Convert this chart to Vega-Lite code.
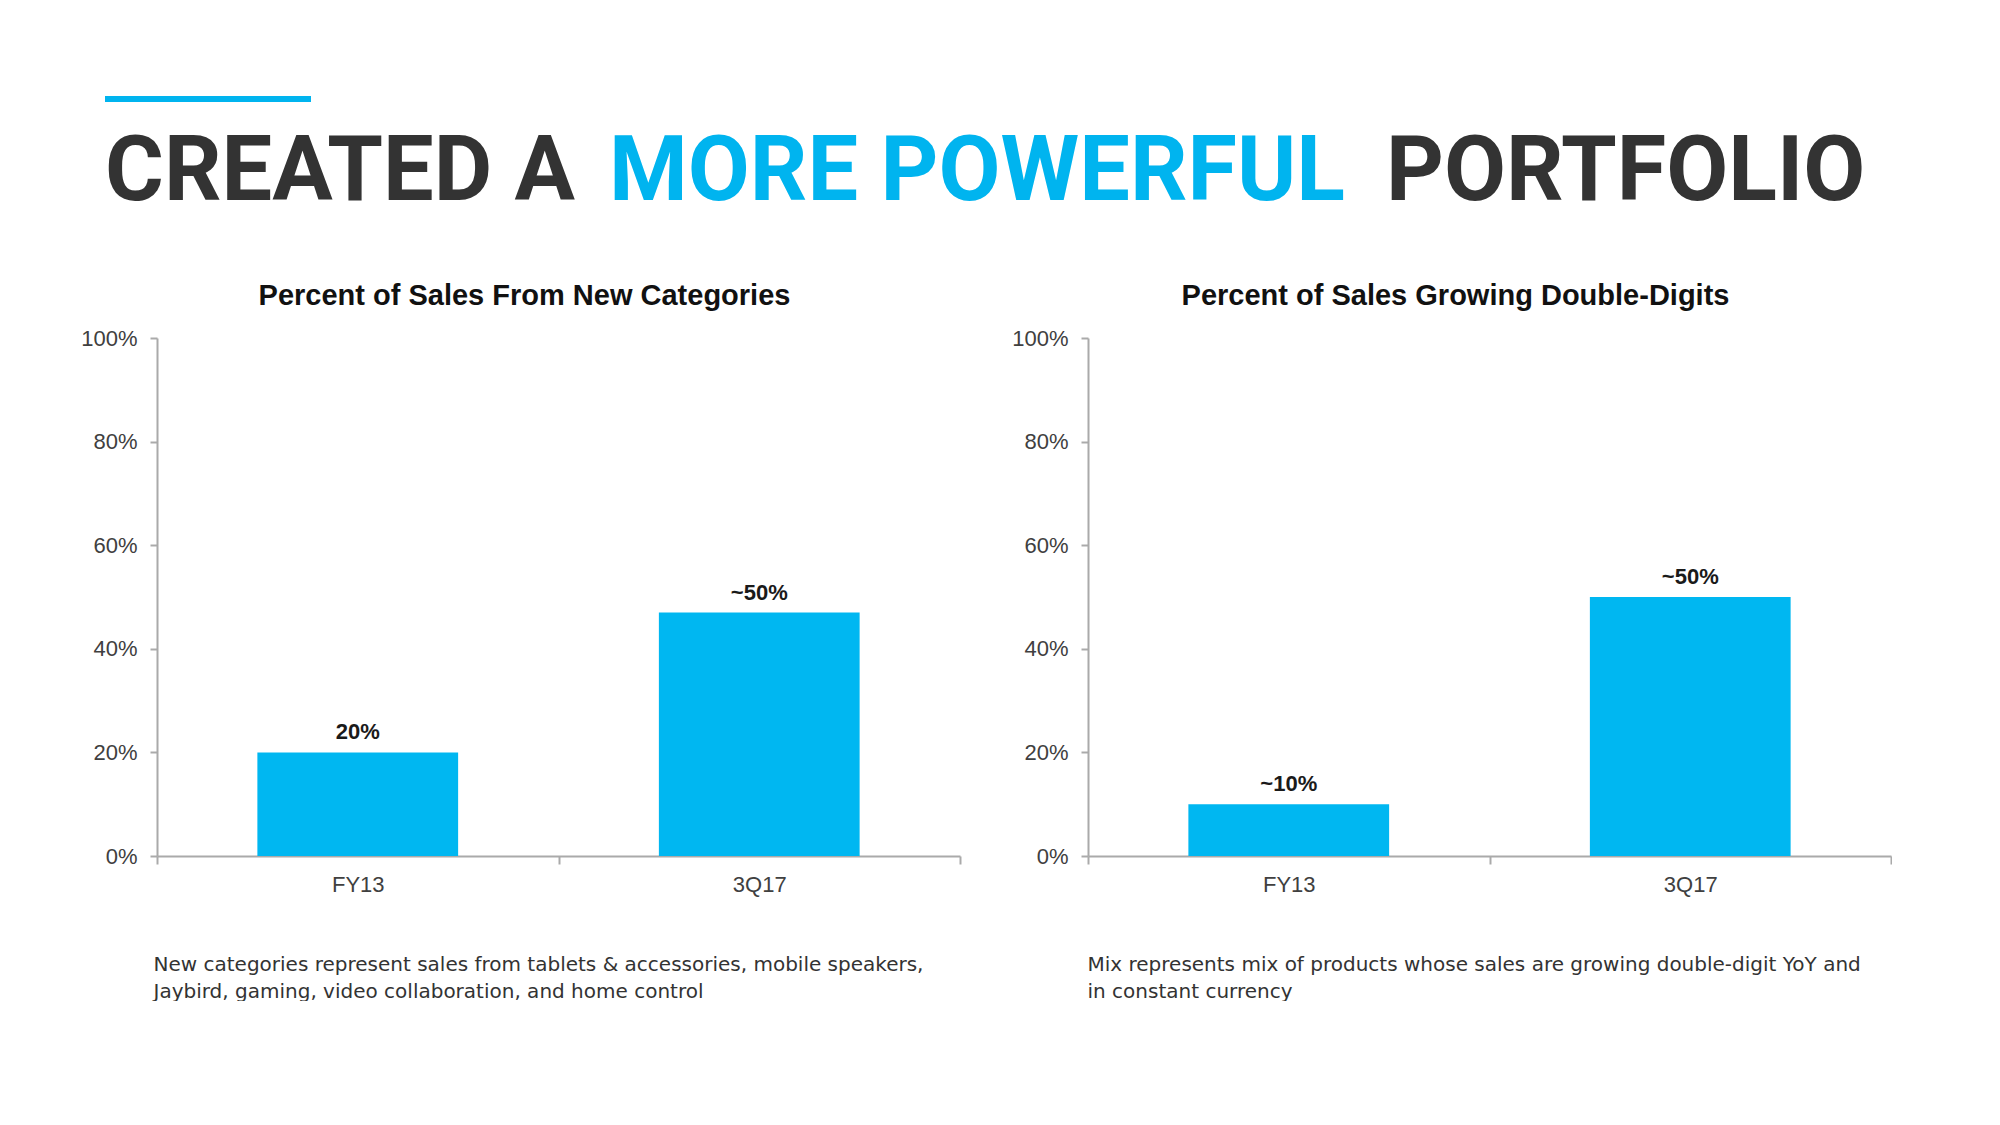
{
  "$schema": "https://vega.github.io/schema/vega-lite/v6.json",
  "background": "white",
  "padding": {"left": 80, "top": 90, "right": 0, "bottom": 0},
  "config": {"view": {"stroke": null}, "font": "Liberation Sans"},
  "datasets": {
    "header": [{"segment": "CREATED A"}, {"segment": "MORE POWERFUL"}, {"segment": "PORTFOLIO"}],
    "newcat": [
      {"period": "FY13", "value": 0.20, "label": "20%"},
      {"period": "3Q17", "value": 0.47, "label": "~50%"}
    ],
    "growth": [
      {"period": "FY13", "value": 0.10, "label": "~10%"},
      {"period": "3Q17", "value": 0.50, "label": "~50%"}
    ]
  },
  "spacing": 52,
  "vconcat": [
    {
      "width": 1700,
      "height": 140,
      "data": {"name": "header"},
      "encoding": {},
      "layer": [
        {
          "transform": [{"filter": "datum.segment === 'CREATED A'"}],
          "mark": {"type": "rule", "color": "#00B4EF", "strokeWidth": 6},
          "encoding": {
            "x": {"datum": -52, "type": "quantitative", "scale": {"domain": [0, 1700], "nice": false, "zero": false}, "axis": null},
            "x2": {"datum": 154},
            "y": {"datum": 9, "type": "quantitative", "scale": {"domain": [0, 140], "reverse": true, "nice": false, "zero": false}, "axis": null}
          }
        },
        {
          "transform": [{"filter": "datum.segment === 'CREATED A'"}],
          "mark": {"type": "text", "font": "Roboto", "fontSize": 90, "fontWeight": "bold", "color": "#333333", "align": "left", "baseline": "alphabetic"},
          "encoding": {
            "x": {"datum": -52, "type": "quantitative"},
            "y": {"datum": 110, "type": "quantitative"},
            "text": {"field": "segment"}
          }
        },
        {
          "transform": [{"filter": "datum.segment === 'MORE POWERFUL'"}],
          "mark": {"type": "text", "font": "Roboto", "fontSize": 90, "fontWeight": "bold", "color": "#00B4EF", "align": "left", "baseline": "alphabetic"},
          "encoding": {
            "x": {"datum": 452, "type": "quantitative"},
            "y": {"datum": 110, "type": "quantitative"},
            "text": {"field": "segment"}
          }
        },
        {
          "transform": [{"filter": "datum.segment === 'PORTFOLIO'"}],
          "mark": {"type": "text", "font": "Roboto", "fontSize": 90, "fontWeight": "bold", "color": "#333333", "align": "left", "baseline": "alphabetic"},
          "encoding": {
            "x": {"datum": 1229, "type": "quantitative"},
            "y": {"datum": 110, "type": "quantitative"},
            "text": {"field": "segment"}
          }
        }
      ]
    },
    {
      "hconcat": [
        {
          "width": 803,
          "height": 518,
          "data": {"name": "newcat"},
          "title": {"text": "Percent of Sales From New Categories", "font": "Liberation Sans", "fontSize": 29, "fontWeight": "bold", "color": "#111111", "frame": "group", "offset": 16, "dx": -34},
          "encoding": {
            "x": {
              "field": "period", "type": "nominal", "sort": ["FY13", "3Q17"],
              "scale": {"paddingInner": 0, "paddingOuter": 0},
              "axis": {
                "labelAngle": 0, "tickBand": "extent", "tickSize": 8, "tickColor": "#aaaaaa", "tickWidth": 2,
                "domainColor": "#aaaaaa", "domainWidth": 2, "labelFontSize": 22, "labelColor": "#404040", "labelPadding": 10,
                "title": ["New categories represent sales from  tablets & accessories, mobile speakers,", "Jaybird, gaming, video collaboration, and home control"],
                "titleFont": "DejaVu Sans", "titleFontSize": 20, "titleFontWeight": "normal", "titleColor": "#333333", "titleAnchor": "start", "titleAlign": "left",
                "titlePadding": 59, "titleLineHeight": 27, "titleX": -4
              }
            },
            "y": {
              "field": "value", "type": "quantitative", "scale": {"domain": [0, 1]},
              "axis": {
                "values": [0, 0.2, 0.4, 0.6, 0.8, 1], "format": ".0%", "grid": false, "title": null,
                "tickSize": 7, "tickColor": "#aaaaaa", "tickWidth": 2, "domainColor": "#aaaaaa", "domainWidth": 2,
                "labelFontSize": 22, "labelColor": "#404040", "labelPadding": 13
              }
            }
          },
          "layer": [
            {"mark": {"type": "bar", "color": "#00B7F1", "width": {"band": 0.5}}},
            {"mark": {"type": "text", "baseline": "bottom", "dy": -8, "fontSize": 22, "fontWeight": "bold", "color": "#1a1a1a"}, "encoding": {"text": {"field": "label"}}}
          ]
        },
        {
          "width": 803,
          "height": 518,
          "data": {"name": "growth"},
          "title": {"text": "Percent of Sales Growing Double-Digits", "font": "Liberation Sans", "fontSize": 29, "fontWeight": "bold", "color": "#111111", "frame": "group", "offset": 16, "dx": -34},
          "encoding": {
            "x": {
              "field": "period", "type": "nominal", "sort": ["FY13", "3Q17"],
              "scale": {"paddingInner": 0, "paddingOuter": 0},
              "axis": {
                "labelAngle": 0, "tickBand": "extent", "tickSize": 8, "tickColor": "#aaaaaa", "tickWidth": 2,
                "domainColor": "#aaaaaa", "domainWidth": 2, "labelFontSize": 22, "labelColor": "#404040", "labelPadding": 10,
                "title": ["Mix represents mix of products whose sales are growing double-digit YoY and", "in constant currency"],
                "titleFont": "DejaVu Sans", "titleFontSize": 20, "titleFontWeight": "normal", "titleColor": "#333333", "titleAnchor": "start", "titleAlign": "left",
                "titlePadding": 59, "titleLineHeight": 27, "titleX": -1
              }
            },
            "y": {
              "field": "value", "type": "quantitative", "scale": {"domain": [0, 1]},
              "axis": {
                "values": [0, 0.2, 0.4, 0.6, 0.8, 1], "format": ".0%", "grid": false, "title": null,
                "tickSize": 7, "tickColor": "#aaaaaa", "tickWidth": 2, "domainColor": "#aaaaaa", "domainWidth": 2,
                "labelFontSize": 22, "labelColor": "#404040", "labelPadding": 13
              }
            }
          },
          "layer": [
            {"mark": {"type": "bar", "color": "#00B7F1", "width": {"band": 0.5}}},
            {"mark": {"type": "text", "baseline": "bottom", "dy": -8, "fontSize": 22, "fontWeight": "bold", "color": "#1a1a1a"}, "encoding": {"text": {"field": "label"}}}
          ]
        }
      ],
      "spacing": 128,
      "bounds": "flush"
    }
  ]
}
